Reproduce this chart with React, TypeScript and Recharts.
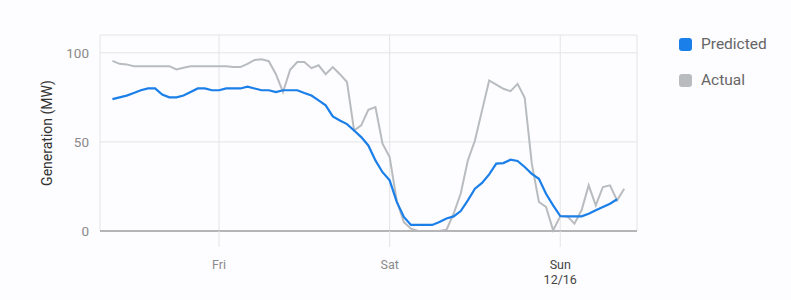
import React from 'react';
import { LineChart, Line, XAxis, YAxis, CartesianGrid } from 'recharts';

// Hours counted from Thu 09:00 (one point per hour)
const predicted = [
  74, 75, 76, 77.4, 79, 80, 80, 76.6, 75, 75,
  76, 78, 80, 80, 79, 79, 80, 80, 80, 81,
  80, 79, 79, 78, 79, 79, 79, 77.4, 76, 73.3,
  70.5, 64.3, 62, 60, 56.4, 52.7, 48, 39.6, 33, 28.4,
  16.3, 7.9, 3.4, 3.4, 3.4, 3.4, 5, 7, 8.2, 11.2,
  17.2, 23.7, 27, 31.8, 37.8, 38.1, 40, 39.3, 35.9, 32.1,
  29.3, 20.9, 14.4, 8.4, 8.2, 8.2, 8.2, 9.7, 11.6, 13.5,
  15.3, 17.8,
];

const actual = [
  95.5, 93.8, 93.5, 92.5, 92.5, 92.5, 92.5, 92.5, 92.5, 90.7,
  91.6, 92.5, 92.5, 92.5, 92.5, 92.5, 92.5, 92, 92, 93.8,
  96, 96.4, 95.3, 88, 78, 90.5, 94.8, 94.8, 91.4, 93,
  88, 92, 88, 83.6, 56.4, 59.3, 68, 69.5, 49, 41.5,
  17, 5, 1.3, 0, 0, 0, 0, 0.7, 9.7, 21,
  39.6, 50.8, 67.7, 84.5, 82.2, 79.8, 78.5, 82.6, 74.8, 37.8,
  16.3, 13.5, 0.4, 8.2, 8.2, 4.1, 11.6, 25.6, 14.4, 24.7,
  25.6, 17.2, 23.7,
];

const dayTicks = [15, 39, 63];
const dayLabels = ['Fri', 'Sat', 'Sun'];
const daySubLabels = ['', '', '12/16'];
const yTicks = [0, 50, 100];

const seriesNames = ['Predicted', 'Actual'];
const seriesColors = ['#1a7fe8', '#b9bcbf'];

const data = actual.map((a, i) => ({
  h: i,
  actual: a,
  predicted: i < predicted.length ? predicted[i] : null,
}));

const font = 'Roboto, "Noto Sans", sans-serif';

const DayTick = ({ x, y, payload }: any) => {
  const idx = dayTicks.indexOf(payload.value);
  const dark = daySubLabels[idx] !== '';
  const color = dark ? '#444444' : '#8a8a8a';
  return (
    <g transform={`translate(${x},${y})`}>
      <text x={0} y={0} dy={20} textAnchor="middle" fontSize={12.5} fill={color} stroke="none" fontFamily={font}>
        {dayLabels[idx]}
      </text>
      {dark && (
        <text x={0} y={0} dy={35} textAnchor="middle" fontSize={12.5} fill={color} stroke="none" fontFamily={font}>
          {daySubLabels[idx]}
        </text>
      )}
    </g>
  );
};

const App = () => {
  return (
    <div style={{ position: 'relative', width: 791, height: 300, background: '#fdfcfe', fontFamily: font }}>
      <style>{`body{margin:0}`}</style>
      <LineChart
        width={791}
        height={300}
        data={data}
        margin={{ top: 35, right: 154, bottom: 19, left: 0 }}
      >
        <CartesianGrid stroke="#e4e4e6" strokeWidth={1} />
        <XAxis
          dataKey="h"
          type="number"
          domain={[-1.75, 73.8]}
          ticks={dayTicks}
          tick={<DayTick />}
          tickSize={16}
          tickLine={{ stroke: '#e4e4e6' }}
          axisLine={{ stroke: '#b5b5b8', strokeWidth: 2 }}
          height={50}
          interval={0}
        />
        <YAxis
          type="number"
          domain={[0, 110]}
          ticks={yTicks}
          width={100}
          axisLine={false}
          tickLine={false}
          tickMargin={5}
          tick={{ fontSize: 13.5, fill: '#8a8a8a', fontFamily: font }}
          label={{
            value: 'Generation (MW)',
            angle: -90,
            position: 'insideLeft',
            offset: 47,
            style: { textAnchor: 'middle', fontSize: 14, fill: '#333', fontFamily: font },
          }}
        />
        <Line
          type="linear"
          dataKey="actual"
          stroke={seriesColors[1]}
          strokeWidth={2}
          dot={false}
          isAnimationActive={false}
        />
        <Line
          type="linear"
          dataKey="predicted"
          stroke={seriesColors[0]}
          strokeWidth={2.2}
          dot={false}
          connectNulls={false}
          isAnimationActive={false}
        />
      </LineChart>
      <div style={{ position: 'absolute', left: 679, top: 33 }}>
        {seriesNames.map((name, i) => (
          <div key={name} style={{ display: 'flex', alignItems: 'center', height: 22, marginBottom: 14 }}>
            <span
              style={{
                display: 'inline-block',
                width: 13,
                height: 13,
                borderRadius: 3,
                background: seriesColors[i],
                marginRight: 9,
              }}
            />
            <span style={{ fontSize: 15.5, color: '#666' }}>{name}</span>
          </div>
        ))}
      </div>
    </div>
  );
};

export default App;
